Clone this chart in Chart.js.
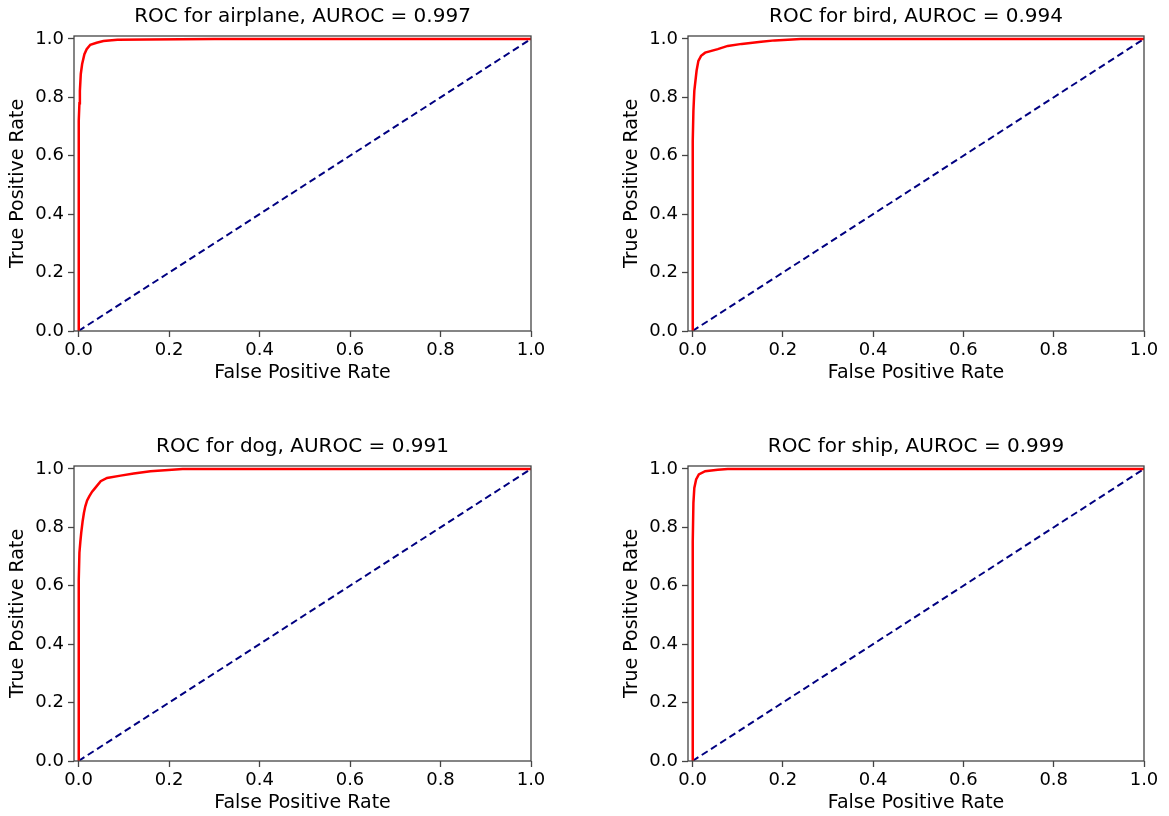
<!DOCTYPE html>
<html lang="en">
<head>
    <meta charset="UTF-8">
    <title>ROC curves</title>
    <script src="https://cdn.jsdelivr.net/npm/chart.js"></script>
    <style>
        body { margin: 0; padding: 0; overflow: hidden; background: white; width: 1169px; height: 816px; }
        .panel { position: absolute; height: 386px; }
    </style>
</head>
<body>
    <div class="panel" style="left:0px; top:0px; width:560px;"><canvas id="c0"></canvas></div>
    <div class="panel" style="left:614px; top:0px; width:555px;"><canvas id="c1"></canvas></div>
    <div class="panel" style="left:0px; top:430px; width:560px;"><canvas id="c2"></canvas></div>
    <div class="panel" style="left:614px; top:430px; width:555px;"><canvas id="c3"></canvas></div>

    <script>
        // values
        const classNames = ['airplane', 'bird', 'dog', 'ship'];
        const aurocs = ['0.997', '0.994', '0.991', '0.999'];

        const fprAirplane = [0, 0, 0.001, 0.002, 0.003, 0.005, 0.008, 0.013, 0.018, 0.026, 0.04, 0.055, 0.086, 0.15, 0.3, 1.0];
        const tprAirplane = [0, 0.55, 0.72, 0.78, 0.822, 0.88, 0.914, 0.948, 0.965, 0.98, 0.987, 0.993, 0.997, 0.998, 1.0, 1.0];

        const fprBird = [0, 0, 0.001, 0.002, 0.004, 0.009, 0.013, 0.019, 0.028, 0.056, 0.078, 0.109, 0.152, 0.182, 0.24, 1.0];
        const tprBird = [0, 0.5, 0.65, 0.754, 0.822, 0.891, 0.925, 0.942, 0.953, 0.965, 0.976, 0.983, 0.99, 0.995, 1.0, 1.0];

        const fprDog = [0, 0, 0.001, 0.002, 0.004, 0.006, 0.009, 0.012, 0.015, 0.019, 0.024, 0.03, 0.037, 0.049, 0.063, 0.093, 0.122, 0.159, 0.23, 1.0];
        const tprDog = [0, 0.45, 0.62, 0.714, 0.75, 0.782, 0.82, 0.85, 0.872, 0.892, 0.907, 0.922, 0.935, 0.958, 0.969, 0.977, 0.984, 0.992, 1.0, 1.0];

        const fprShip = [0, 0, 0.001, 0.002, 0.004, 0.008, 0.014, 0.028, 0.056, 0.078, 1.0];
        const tprShip = [0, 0.6, 0.75, 0.884, 0.935, 0.964, 0.981, 0.992, 0.997, 1.0, 1.0];

        const chanceX = [0, 1];
        const chanceY = [0, 1];
        const tickValues = [0, 0.2, 0.4, 0.6, 0.8, 1.0];

        const fprs = [fprAirplane, fprBird, fprDog, fprShip];
        const tprs = [tprAirplane, tprBird, tprDog, tprShip];

        const FONT = 'DejaVu Sans';
        const axisColor = '#444';

        // box around the plot area (matplotlib spines)
        const framePlugin = {
            id: 'frame',
            afterLayout(chart) {
                // center the title over the axes, like matplotlib does
                const t = chart.titleBlock;
                if (t) {
                    t.left = chart.chartArea.left;
                    t.right = chart.chartArea.right;
                    t.width = t.right - t.left;
                }
            },
            afterDraw(chart) {
                const a = chart.chartArea;
                const ctx = chart.ctx;
                ctx.save();
                ctx.strokeStyle = axisColor;
                ctx.lineWidth = 1.3;
                ctx.strokeRect(a.left, a.top, a.right - a.left, a.bottom - a.top);
                ctx.restore();
            }
        };

        function toPoints(xs, ys) {
            return xs.map((x, i) => ({ x: x, y: ys[i] }));
        }

        function makeChart(idx, rightPad) {
            const ctx = document.getElementById('c' + idx).getContext('2d');
            new Chart(ctx, {
                type: 'line',
                data: {
                    datasets: [{
                        data: toPoints(fprs[idx], tprs[idx]),
                        borderColor: '#ff0000',
                        borderWidth: 2.5,
                        pointRadius: 0,
                        tension: 0,
                        fill: false
                    }, {
                        data: toPoints(chanceX, chanceY),
                        borderColor: '#000080',
                        borderWidth: 2,
                        borderDash: [7, 4],
                        pointRadius: 0,
                        fill: false
                    }]
                },
                options: {
                    responsive: true,
                    maintainAspectRatio: false,
                    animation: false,
                    layout: { padding: { left: 0, right: rightPad, top: 0, bottom: 0 } },
                    plugins: {
                        legend: { display: false },
                        tooltip: { enabled: false },
                        title: {
                            display: true,
                            text: 'ROC for ' + classNames[idx] + ', AUROC = ' + aurocs[idx],
                            color: '#000',
                            font: { family: FONT, size: 20, weight: 'normal' },
                            padding: { top: 5, bottom: 7 }
                        }
                    },
                    scales: {
                        x: {
                            type: 'linear',
                            min: -0.01,
                            max: 1.0,
                            afterBuildTicks: s => { s.ticks = tickValues.map(v => ({ value: v })); },
                            afterFit: s => { s.height = 55; },
                            ticks: {
                                color: '#000',
                                font: { family: FONT, size: 18 },
                                padding: 3,
                                maxRotation: 0,
                                callback: v => v.toFixed(1)
                            },
                            grid: { drawOnChartArea: false, drawTicks: true, tickLength: 6, tickColor: axisColor, tickWidth: 1.3 },
                            border: { display: false },
                            title: {
                                display: true,
                                text: 'False Positive Rate',
                                color: '#000',
                                font: { family: FONT, size: 19 },
                                padding: { top: 0, bottom: 2 }
                            }
                        },
                        y: {
                            type: 'linear',
                            min: 0,
                            max: 1.01,
                            afterBuildTicks: s => { s.ticks = tickValues.map(v => ({ value: v })); },
                            afterFit: s => { s.width = 74; },
                            ticks: {
                                color: '#000',
                                font: { family: FONT, size: 18 },
                                padding: 4,
                                callback: v => v.toFixed(1)
                            },
                            grid: { drawOnChartArea: false, drawTicks: true, tickLength: 6, tickColor: axisColor, tickWidth: 1.3 },
                            border: { display: false },
                            title: {
                                display: true,
                                text: 'True Positive Rate',
                                color: '#000',
                                font: { family: FONT, size: 19 },
                                padding: { top: 7, bottom: 0 }
                            }
                        }
                    }
                },
                plugins: [framePlugin]
            });
        }

        makeChart(0, 29);
        makeChart(1, 25);
        makeChart(2, 29);
        makeChart(3, 25);
    </script>
</body>
</html>
